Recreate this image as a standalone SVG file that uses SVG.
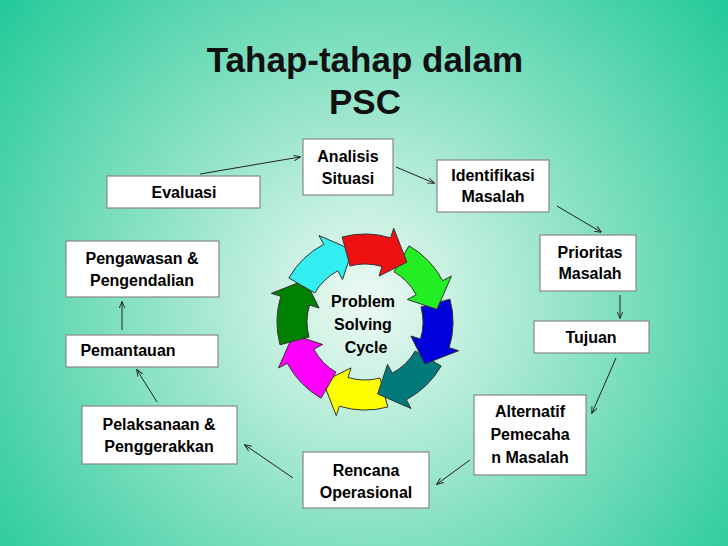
<svg xmlns="http://www.w3.org/2000/svg" width="728" height="546" viewBox="0 0 728 546">
<defs>
<radialGradient id="bg" cx="365" cy="300" r="480" gradientUnits="userSpaceOnUse">
<stop offset="0" stop-color="#eefaf4"/><stop offset="0.45" stop-color="#8fe3c6"/><stop offset="1" stop-color="#1fc898"/>
</radialGradient>
<marker id="ah" viewBox="0 0 10 10" refX="9" refY="5" markerWidth="7" markerHeight="7" orient="auto"><path d="M0,1 L10,5 L0,9" fill="none" stroke="#222" stroke-width="1.3"/></marker>
<style>
.box{fill:#fff;stroke:#888;stroke-width:1.2}
.t{font-family:"Liberation Sans",Arial,sans-serif;font-weight:bold;font-size:16px;fill:#000;text-anchor:middle}
.c{stroke:#222;stroke-width:1;fill:none;marker-end:url(#ah)}
.s{stroke:#333;stroke-width:1}
</style>
</defs>
<rect width="728" height="546" fill="url(#bg)"/>
<text x="365" y="72" class="t" style="font-size:35px;fill:#111">Tahap-tahap dalam</text>
<text x="365" y="114" class="t" style="font-size:35px;fill:#111">PSC</text>
<g id="cycle">
<path class="s" fill="#ffff00" d="M387.8,407 A88,88 0 0 1 339.3,406.2 L336.3,415.7 L323.1,381.8 L351,367.9 L348,377.5 A58,58 0 0 0 380,378 Z"/>
<path class="s" fill="#ff00ff" d="M321,398.2 A88,88 0 0 1 287.3,363.3 L278.5,368 L293.1,334.7 L322.6,344.5 L313.8,349.2 A58,58 0 0 0 336,372.2 Z"/>
<path class="s" fill="#008000" d="M280,344.8 A88,88 0 0 1 280.8,296.3 L271.3,293.3 L305.2,280.1 L319.1,308 L309.5,305 A58,58 0 0 0 309,337 Z"/>
<path class="s" fill="#33eef0" d="M288.8,278 A88,88 0 0 1 323.7,244.3 L319,235.5 L352.3,250.1 L342.5,279.6 L337.8,270.8 A58,58 0 0 0 314.8,293 Z"/>
<path class="s" fill="#007a7a" d="M441.2,366 A88,88 0 0 1 406.3,399.7 L411,408.5 L377.7,393.9 L387.5,364.4 L392.2,373.2 A58,58 0 0 0 415.2,351 Z"/>
<path class="s" fill="#0000dd" d="M450,299.2 A88,88 0 0 1 449.2,347.7 L458.7,350.7 L424.8,363.9 L410.9,336 L420.5,339 A58,58 0 0 0 421,307 Z"/>
<path class="s" fill="#22ee22" d="M409,245.8 A88,88 0 0 1 442.7,280.7 L451.5,276 L436.9,309.3 L407.4,299.5 L416.2,294.8 A58,58 0 0 0 394,271.8 Z"/>
<path class="s" fill="#ee1111" d="M342.2,237 A88,88 0 0 1 390.7,237.8 L393.7,228.3 L406.9,262.2 L379,276.1 L382,266.5 A58,58 0 0 0 350,266 Z"/>
<text x="363" y="307" class="t">Problem</text>
<text x="363" y="330" class="t">Solving</text>
<text x="366" y="353" class="t">Cycle</text>
</g>
<g id="connectors">
<line class="c" x1="200" y1="174" x2="300" y2="157"/>
<line class="c" x1="396" y1="167" x2="434" y2="183"/>
<line class="c" x1="557" y1="206" x2="601" y2="232"/>
<line class="c" x1="620" y1="295" x2="620" y2="318"/>
<line class="c" x1="616" y1="358" x2="592" y2="413"/>
<line class="c" x1="470" y1="460" x2="437" y2="484"/>
<line class="c" x1="293" y1="478" x2="245" y2="445"/>
<line class="c" x1="157" y1="402" x2="137" y2="370"/>
<line class="c" x1="122" y1="330" x2="122" y2="302"/>
</g>
<g id="analisis"><rect class="box" x="303" y="139" width="90" height="56"/><text x="348" y="162" class="t">Analisis</text><text x="348" y="184" class="t">Situasi</text></g>
<g id="identifikasi"><rect class="box" x="437" y="160" width="112" height="52"/><text x="493" y="181" class="t">Identifikasi</text><text x="493" y="202" class="t">Masalah</text></g>
<g id="evaluasi"><rect class="box" x="107" y="176" width="153" height="32"/><text x="184" y="198" class="t">Evaluasi</text></g>
<g id="prioritas"><rect class="box" x="540" y="235" width="96" height="56"/><text x="590" y="258" class="t">Prioritas</text><text x="590" y="279" class="t">Masalah</text></g>
<g id="pengawasan"><rect class="box" x="66" y="241" width="153" height="56"/><text x="142" y="264" class="t">Pengawasan &amp;</text><text x="142" y="286" class="t">Pengendalian</text></g>
<g id="tujuan"><rect class="box" x="534" y="321" width="115" height="32"/><text x="591" y="343" class="t">Tujuan</text></g>
<g id="pemantauan"><rect class="box" x="66" y="335" width="152" height="32"/><text x="128" y="356" class="t">Pemantauan</text></g>
<g id="alternatif"><rect class="box" x="474" y="395" width="112" height="80"/><text x="530" y="417" class="t">Alternatif</text><text x="530" y="440" class="t">Pemecaha</text><text x="530" y="463" class="t">n Masalah</text></g>
<g id="pelaksanaan"><rect class="box" x="82" y="406" width="155" height="58"/><text x="159" y="430" class="t">Pelaksanaan &amp;</text><text x="159" y="452" class="t">Penggerakkan</text></g>
<g id="rencana"><rect class="box" x="303" y="452" width="126" height="56"/><text x="366" y="476" class="t">Rencana</text><text x="366" y="498" class="t">Operasional</text></g>
</svg>
